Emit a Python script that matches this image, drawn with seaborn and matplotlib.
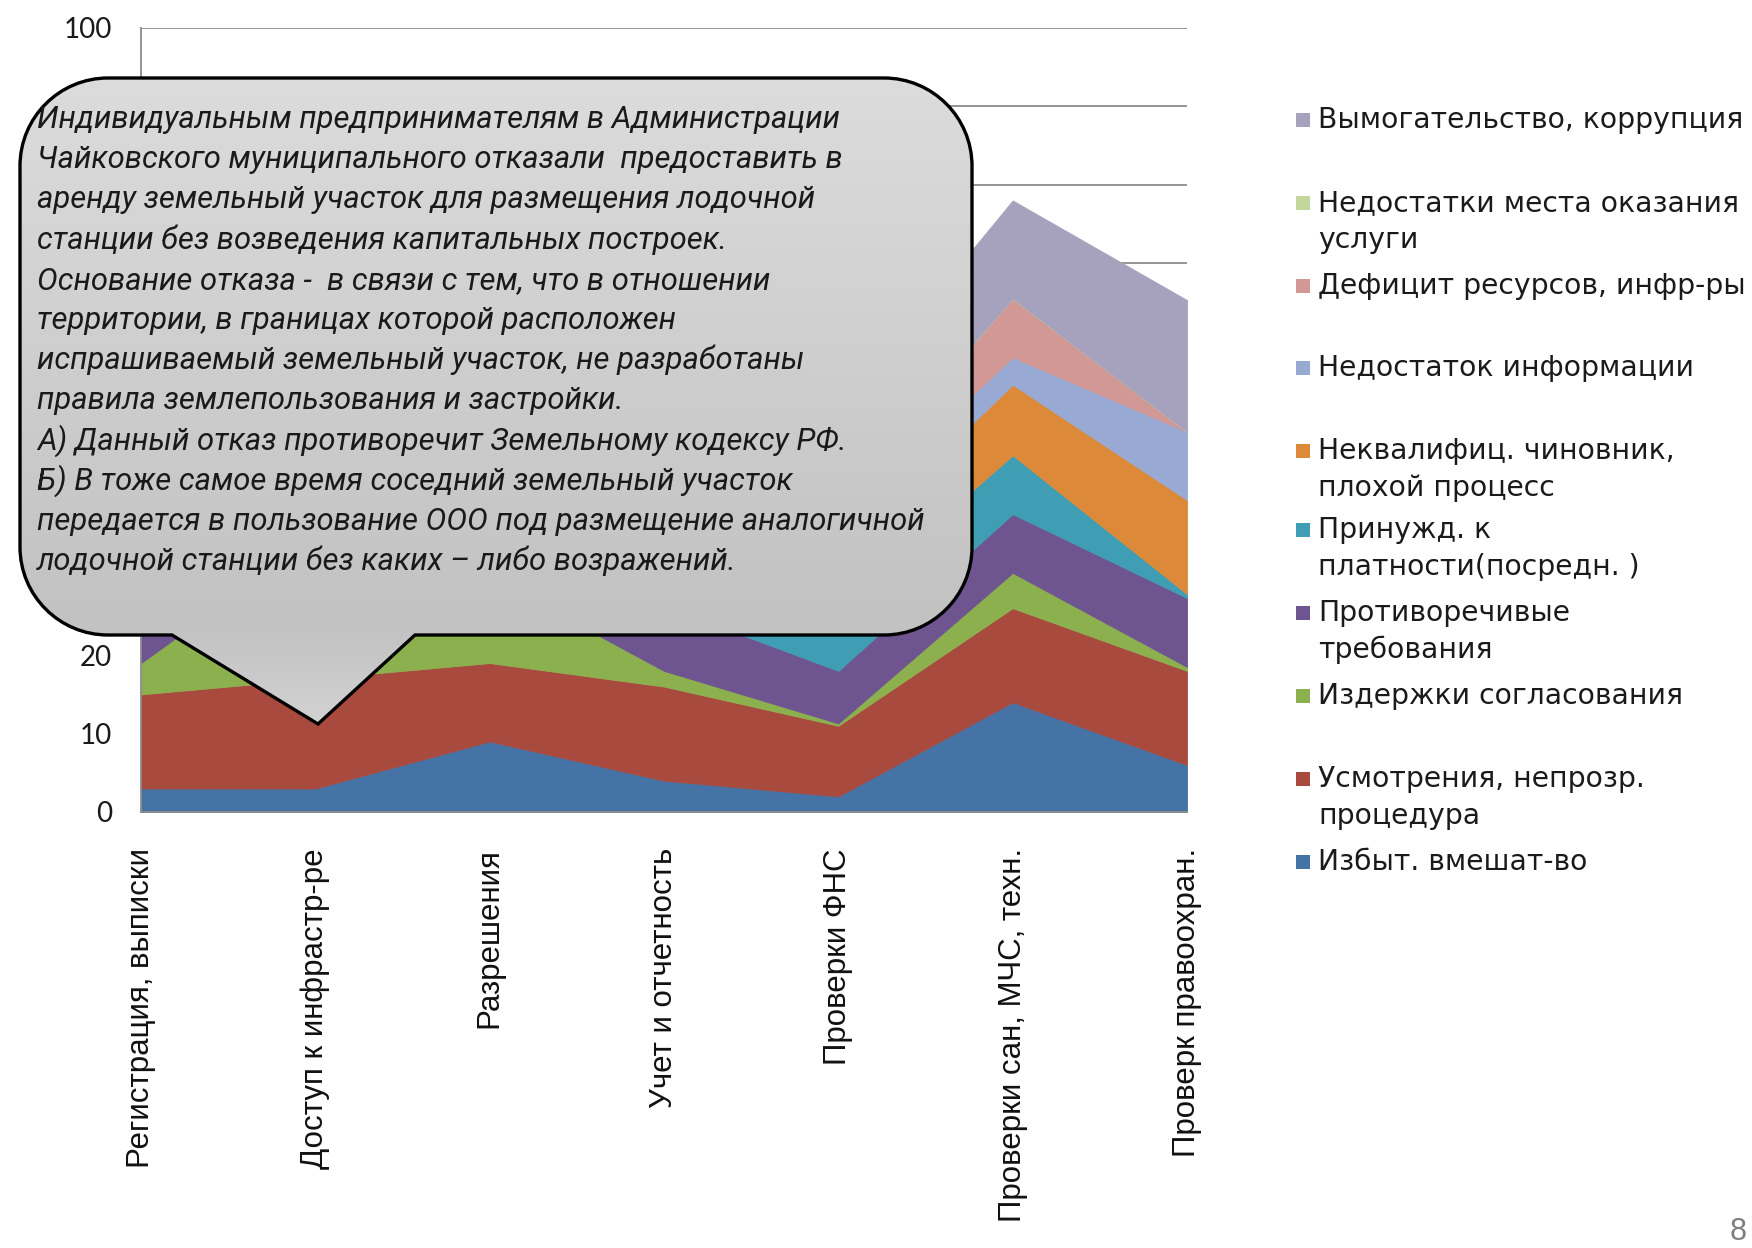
import numpy as np
import matplotlib
matplotlib.use("Agg")
import matplotlib.pyplot as plt
from matplotlib.path import Path
from matplotlib.patches import PathPatch, Rectangle
from matplotlib.colors import LinearSegmentedColormap
import seaborn as sns

# ---- data -----------------------------------------------------------------
categories = [
    "Регистрация, выписки",
    "Доступ к инфрастр-ре",
    "Разрешения",
    "Учет и отчетность",
    "Проверки ФНС",
    "Проверки сан, МЧС, техн.",
    "Проверк правоохран.",
]

# series, from the bottom of the stack to the top
series_names = [
    "Избыт. вмешат-во",
    "Усмотрения, непрозр.\nпроцедура",
    "Издержки согласования",
    "Противоречивые\nтребования",
    "Принужд. к\nплатности(посредн. )",
    "Неквалифиц. чиновник,\nплохой процесс",
    "Недостаток информации",
    "Дефицит ресурсов, инфр-ры",
    "Недостатки места оказания\nуслуги",
    "Вымогательство, коррупция",
]

izbyt = [3, 3, 9, 4, 2, 14, 6]
usmotrenia = [12, 14, 10, 12, 9, 12, 12]
izderzhki = [4, 18, 11, 2, 0.3, 4.5, 0.5]
protivorech = [6, 5, 6, 8.3, 6.7, 7.5, 8.8]
prinuzhd = [3, 6, 4, 5, 8, 7.5, 0.5]
nekvalif = [5, 5, 6, 6, 7, 9, 12]
nedost_info = [3, 3, 3, 4, 4, 3.5, 8.7]
deficit = [2, 8, 2, 1, 3, 7.5, 0]
mesto = [2, 2, 2, 2, 0, 0, 0]
vymogat = [6, 5, 8, 5, 11, 12.5, 16.8]

series_values = [izbyt, usmotrenia, izderzhki, protivorech, prinuzhd,
                 nekvalif, nedost_info, deficit, mesto, vymogat]

palette = ["#4673a5", "#a84a3e", "#8db04f", "#6f5590", "#3f9db4",
           "#dc8a3a", "#98a9d3", "#d29896", "#c4d79b", "#a6a2be"]

y_ticks = list(range(0, 101, 10))
# only the labels left uncovered by the bubble are printed
y_tick_labels = ["0", "10", "20", "", "", "", "", "", "", "", "100"]

callout_lines = [
    "Индивидуальным предпринимателям в Администрации",
    "Чайковского муниципального отказали  предоставить в",
    "аренду земельный участок для размещения лодочной",
    "станции без возведения капитальных построек.",
    "Основание отказа -  в связи с тем, что в отношении",
    "территории, в границах которой расположен",
    "испрашиваемый земельный участок, не разработаны",
    "правила землепользования и застройки.",
    "А) Данный отказ противоречит Земельному кодексу РФ.",
    "Б) В тоже самое время соседний земельный участок",
    "передается в пользование ООО под размещение аналогичной",
    "лодочной станции без каких – либо возражений.",
]

# ---- style ------------------------------------------------------------------
sns.set_theme(style="white")
plt.rcParams["font.family"] = ["Liberation Sans", "DejaVu Sans"]
colors = sns.color_palette(palette)

W, H = 1752, 1248
fig = plt.figure(figsize=(W / 100, H / 100), dpi=100)
fig.patch.set_facecolor("white")

# main axes (pixel box: x 141..1187, y 28..812 from top)
ax = fig.add_axes([141 / W, (H - 812) / H, (1187 - 141) / W, (812 - 28) / H])
x = np.arange(len(categories))
polys = ax.stackplot(x, *series_values, colors=colors, linewidth=0)
for p, c in zip(polys, colors):
    p.set_edgecolor(c)
    p.set_linewidth(0.6)

ax.set_xlim(0, len(categories) - 1)
ax.set_ylim(0, 100)
ax.set_yticks(y_ticks)
ax.set_yticklabels(y_tick_labels, family=["Lato", "DejaVu Sans"], fontsize=20,
                   color="#1a1a1a")
ax.yaxis.grid(True, color="#8c8c8c", linewidth=1.3)
ax.xaxis.grid(False)
ax.set_axisbelow(True)
sns.despine(ax=ax, top=True, right=True)
for s in ("left", "bottom"):
    ax.spines[s].set_color("#8c8c8c")
    ax.spines[s].set_linewidth(1.3)

ax.tick_params(axis="y", direction="out", length=8, width=1.3, color="#8c8c8c",
               pad=13)
ax.tick_params(axis="x", direction="out", length=8, width=1.3, color="#8c8c8c",
               pad=18, labelcolor="#111111")
ax.set_xticks(x)
ax.set_xticklabels(categories, rotation=90, fontsize=22.5,
                   family=["Liberation Sans", "DejaVu Sans"])

# ---- overlay in pixel coordinates (legend, callout) ----------------------
ov = fig.add_axes([0, 0, 1, 1], zorder=10)
ov.set_xlim(0, W)
ov.set_ylim(H, 0)
ov.axis("off")
ov.patch.set_alpha(0)

# legend: top of the stack first
legend_y = [118, 201, 284, 366, 449, 528, 611, 694, 777, 860]
order = list(range(len(series_names)))[::-1]
for y0, idx in zip(legend_y, order):
    ov.add_patch(Rectangle((1296, y0 - 5), 14, 14, facecolor=colors[idx],
                           edgecolor="none"))
    for k, line in enumerate(series_names[idx].split("\n")):
        ov.text(1318, y0 + 10 + k * 37, line, fontsize=20.3,
                family=["DejaVu Sans"], color="#1a1a1a", va="baseline", ha="left")

# callout bubble
L, T, R, B = 20, 78, 972, 635
r = 88
k = 0.5523 * r
tip = (318, 724)
base_l, base_r = 172, 415
verts = [
    (L + r, T), (R - r, T),
    (R - r + k, T), (R, T + r - k), (R, T + r),
    (R, B - r),
    (R, B - r + k), (R - r + k, B), (R - r, B),
    (base_r, B), tip, (base_l, B), (L + r, B),
    (L + r - k, B), (L, B - r + k), (L, B - r),
    (L, T + r),
    (L, T + r - k), (L + r - k, T), (L + r, T),
]
codes = ([Path.MOVETO, Path.LINETO] + [Path.CURVE4] * 3 + [Path.LINETO]
         + [Path.CURVE4] * 3 + [Path.LINETO] * 4 + [Path.CURVE4] * 3
         + [Path.LINETO] + [Path.CURVE4] * 3)
bubble = Path(verts, codes)

grad_cmap = LinearSegmentedColormap.from_list(
    "bubble", [(0.0, "#dcdcdc"), (0.55, "#cbcbcb"), (0.85, "#c2c2c2"),
               (1.0, "#d2d2d2")])
grad = np.linspace(0, 1, 256).reshape(-1, 1)
img = ov.imshow(grad, cmap=grad_cmap, extent=(L, R, tip[1], T), aspect="auto",
                interpolation="bilinear", zorder=1)
outline = PathPatch(bubble, facecolor="none", edgecolor="black", linewidth=2.4,
                    zorder=2)
ov.add_patch(outline)
img.set_clip_path(outline)
ov.set_xlim(0, W)
ov.set_ylim(H, 0)

for i, line in enumerate(callout_lines):
    ov.text(37, 128 + i * 40.2, line, fontsize=22.3, style="italic",
            family=["Roboto", "DejaVu Sans"], color="#1a1a1a",
            va="baseline", ha="left", zorder=3)

# page number
ov.text(1730, 1240, "8", fontsize=22, color="#7f7f7f", ha="left", va="baseline")

fig.savefig("out.png", dpi=100, facecolor="white")
